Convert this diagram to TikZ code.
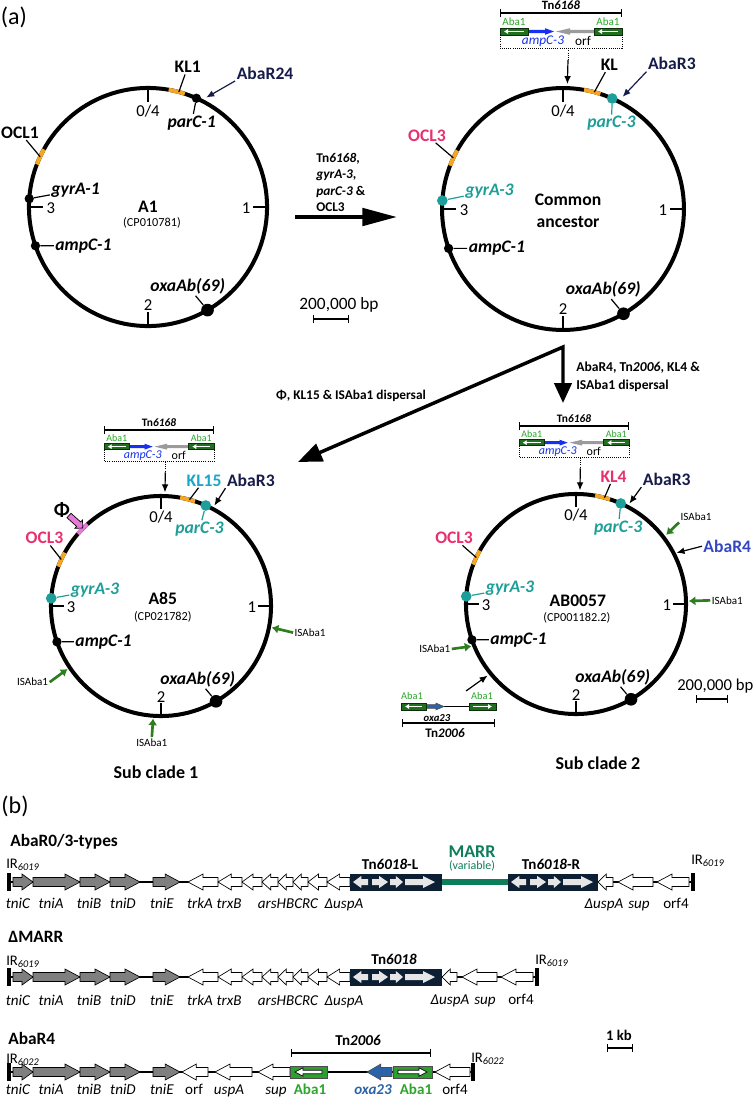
\documentclass[tikz,border=0pt]{standalone}
\usepackage{fontspec}
\setmainfont{Carlito}
\usepackage{tikz}
\usetikzlibrary{arrows.meta,shapes.arrows}
\tikzset{>={Latex[width=5pt,length=6pt]}}

\definecolor{klorange}{HTML}{F5A623}
\definecolor{tealc}{HTML}{1E9E98}
\definecolor{pinkc}{HTML}{E8306E}
\definecolor{kl15c}{HTML}{1AA6C8}
\definecolor{navyc}{HTML}{161C4A}
\definecolor{abarfourc}{HTML}{3347C2}
\definecolor{isgreen}{HTML}{2E7D1F}
\definecolor{abadark}{HTML}{1F6F1F}
\definecolor{abatxt}{HTML}{2BA52B}
\definecolor{abalight}{HTML}{2E9E2E}
\definecolor{ampblue}{HTML}{1530F0}
\definecolor{orfgrey}{HTML}{9B9B9B}
\definecolor{tnnavy}{HTML}{0D1F33}
\definecolor{marrgreen}{HTML}{0E7D5A}
\definecolor{oxablue}{HTML}{2A63A8}
\definecolor{phipink}{HTML}{E879D9}
\definecolor{genegrey}{HTML}{7F7F7F}
\definecolor{innergrey}{HTML}{E6E6E6}

\newcommand\fnlab{\fontsize{13.2}{15}\selectfont}
\newcommand\fntick{\fontsize{12.5}{14}\selectfont}
\newcommand\fnacc{\fontsize{9.2}{11}\selectfont}
\newcommand\fnis{\fontsize{8.3}{10}\selectfont}
\newcommand\fnarr{\fontsize{10}{12.2}\selectfont}
\newcommand\fngene{\fontsize{11.3}{13}\selectfont}
\newcommand\fntitle{\fontsize{13}{15}\selectfont}

\tikzset{
  chr/.style={line width=3pt},
  tck/.style={line width=2.2pt},
  seg/.style={line width=3pt, draw=klorange},
  lead/.style={line width=0.9pt},
  lab/.style={font=\fnlab\bfseries, inner sep=1pt},
  glab/.style={font=\fnlab\bfseries\itshape, inner sep=1pt},
  tlab/.style={font=\fntick, inner sep=1pt},
  acc/.style={font=\fnacc, inner sep=1pt},
  dot/.style={circle, fill=black, inner sep=0pt, minimum size=7pt},
  tdot/.style={dot, fill=tealc, minimum size=8pt},
  ptr/.style={->, line width=0.9pt},
  isarr/.style={draw=isgreen, line width=2pt, -{Latex[length=5pt,width=7pt]}},
  islab/.style={font=\fnis, inner sep=1pt},
  brk/.style={line width=0.8pt, {Bar[width=6pt]}-{Bar[width=6pt]}},
  abad/.style={fill=abadark, draw=black!60!abadark, line width=0.5pt},
  wline/.style={draw=white, line width=1.2pt, -{Latex[length=3pt,width=4pt]}},
  ampfill/.style={fill=ampblue, draw=none},
  orffill/.style={fill=orfgrey, draw=none},
  oxafill/.style={fill=oxablue, draw=black!70, line width=0.4pt},
  gfill/.style={fill=genegrey, draw=black, line width=0.5pt},
  wfill/.style={fill=white, draw=black, line width=0.5pt},
  ifill/.style={fill=innergrey, draw=none},
  abab/.style={fill=abalight, draw=black!70, line width=0.6pt},
  bb/.style={line width=2.2pt},
  marr/.style={line width=3.8pt, draw=marrgreen},
  irbar/.style={line width=2.4pt},
  gl/.style={font=\fngene\itshape, anchor=base, inner sep=0pt},
  tit/.style={font=\fntitle\bfseries, anchor=base west, inner sep=0pt},
  atxt/.style={font=\fnarr\bfseries, inner sep=0pt},
  phiarr/.style={single arrow, draw=black, fill=phipink, line width=0.5pt,
    minimum height=14pt, single arrow head extend=2pt, inner sep=2pt, rotate=-42},
}

\begin{document}
\begin{tikzpicture}[x=0.75pt, y=-0.75pt]
  \useasboundingbox (0,0) rectangle (756,1097);

  %% arrow shaped gene: tail, tip, y, half body, half head, longest head, style
  \newcommand\garrow[7]{%
    \pgfmathsetmacro\gb{(#2)-min(#6,0.55*abs((#2)-(#1)))*sign((#2)-(#1))}%
    \filldraw[#7] (#1,#3-#4) -- (\gb,#3-#4) -- (\gb,#3-#5) -- (#2,#3)
      -- (\gb,#3+#5) -- (\gb,#3+#4) -- (#1,#3+#4) -- cycle;}
  \newcommand\gene[4]{\garrow{#1}{#2}{#3}{4.5}{8}{15}{#4}}
  %% Tn6018 block
  \newcommand\tnbox[3]{%
    \fill[tnnavy] (#1,#3-8.5) rectangle (#2,#3+8.5);
    \garrow{#1+18}{#1+3}{#3}{3}{6}{9}{ifill}
    \garrow{#1+22}{#1+38}{#3}{3}{6}{9}{ifill}
    \garrow{#1+40}{#1+53}{#3}{3}{6}{9}{ifill}
    \garrow{#1+55}{#1+85}{#3}{3}{6}{12}{ifill}}
  %% circle, ticks and shared genes (radius 120 in the scope)
  \newcommand\chromo[1]{%
    \draw[chr] (0,0) circle[radius=120];
    \draw[seg] (-159:120) arc[start angle=-159, end angle=-151, radius=120];
    \coordinate (#1-oclm) at (-155:120);
    \draw[tck] (-90:120) -- (-90:106);
    \draw[tck] (0:120) -- (0:106);
    \draw[tck] (90:120) -- (90:106);
    \draw[tck] (180:120) -- (180:106);
    \node[tlab] (#1-t0) at (0,-97) {0/4};
    \node[tlab] (#1-t1) at (99,1) {1};
    \node[tlab] (#1-t2) at (0,99) {2};
    \node[tlab] (#1-t3) at (-98,1) {3};
    \node[dot] (#1-amp) at (161:120) {};
    \node[glab, anchor=west] (#1-ampl) at (-95,39) {ampC-1};
    \draw[lead] (#1-amp) -- (#1-ampl);
    \node[dot, minimum size=9.5pt] (#1-oxa) at (60:120) {};
    \node[glab] (#1-oxal) at (40,80) {oxaAb(69)};
    \draw[lead] (#1-oxa) -- (#1-oxal);}
  %% Tn6168 cassette: name, x, y, scale
  \newcommand\tnsix[4]{%
    \pgfmathsetmacro\cszA{9.5*#4}\pgfmathsetmacro\cszB{8.3*#4}\pgfmathsetmacro\cszC{10*#4}%
    \begin{scope}[shift={(#2,#3)}, scale=#4]
      \node[font=\fontsize{\cszA}{\cszA}\selectfont\bfseries, inner sep=0pt] (#1-name) at (0,-8) {Tn\textit{6168}};
      \draw[brk] (-61,0) -- (61,0);
      \node[font=\fontsize{\cszB}{\cszB}\selectfont, text=abatxt, inner sep=0pt] (#1-aba1) at (-47,9) {Aba1};
      \node[font=\fontsize{\cszB}{\cszB}\selectfont, text=abatxt, inner sep=0pt] (#1-aba2) at (47,9) {Aba1};
      \garrow{33}{-5}{18.5}{1.7}{3.3}{14}{orffill}
      \garrow{-33}{-7}{18.5}{1.7}{3.3}{9}{ampfill}
      \draw[abad] (-61,15) rectangle (-33,22);
      \draw[abad] (33,15) rectangle (61,22);
      \draw[wline] (-37,18.5) -- (-57,18.5);
      \draw[wline] (57,18.5) -- (37,18.5);
      \node[font=\fontsize{\cszC}{\cszC}\selectfont\itshape, text=ampblue, inner sep=0pt] (#1-amp) at (-18,28) {ampC-3};
      \node[font=\fontsize{\cszC}{\cszC}\selectfont, inner sep=0pt] (#1-orf) at (22,28) {orf};
      \draw[densely dotted, line width=0.6pt] (-61,22) -- (-61,35) -- (61,35) -- (61,22);
      \coordinate (#1-out) at (7,35);
      \coordinate (#1-mid) at (7,47);
    \end{scope}}

  \node[font=\fontsize{18}{20}\selectfont, inner sep=0pt] (lbla) at (14,17) {(a)};

  %% A1
  \begin{scope}[shift={(148,207)}, scale=0.992]
    \chromo{A1}
    \node[dot] (A1-gyr) at (-176:120) {};
    \node[glab] (A1-gyrl) at (-73,-17) {gyrA-1};
    \draw[lead] (A1-gyr) -- (A1-gyrl);
    \node[lab] (A1-ocl) at (-129,-75) {OCL1};
    \draw[lead] (A1-ocl) -- (A1-oclm);
    \draw[seg] (-80:120) arc[start angle=-80, end angle=-72, radius=120];
    \coordinate (A1-klm) at (-75:120);
    \node[lab] (A1-kl) at (40,-141) {KL1};
    \draw[lead] (A1-klm) -- (A1-kl);
    \node[dot] (A1-par) at (-66:120) {};
    \node[glab] (A1-parl) at (44,-85) {parC-1};
    \draw[lead] (A1-par) -- (A1-parl);
    \node[lab, navyc] (A1-abar) at (118,-135) {AbaR24};
    \coordinate (A1-abart) at (-62:125);
    \draw[ptr, navyc] (A1-abar.south west) -- (A1-abart);
    \node[lab] (A1-name) at (0,0) {A1};
    \node[acc] (A1-acc) at (4,16) {(CP010781)};
  \end{scope}

  %% common ancestor
  \begin{scope}[shift={(563,209)}, scale=1.008]
    \chromo{anc}
    \node[tdot] (anc-gyr) at (-176:120) {};
    \node[glab, tealc] (anc-gyrl) at (-73,-18) {gyrA-3};
    \draw[lead, tealc] (anc-gyr) -- (anc-gyrl);
    \node[lab, pinkc] (anc-ocl) at (-135,-73) {OCL3};
    \draw[lead] (anc-ocl) -- (anc-oclm);
    \draw[seg] (-80:120) arc[start angle=-80, end angle=-72, radius=120];
    \coordinate (anc-klm) at (-75:120);
    \node[lab] (anc-kl) at (46,-143) {KL};
    \draw[lead] (anc-klm) -- (anc-kl);
    \node[tdot] (anc-par) at (-66:120) {};
    \node[glab, tealc] (anc-parl) at (48,-85) {parC-3};
    \draw[lead, tealc] (anc-par) -- (anc-parl);
    \node[lab, navyc] (anc-abar) at (108,-144) {AbaR3};
    \coordinate (anc-abart) at (-62:126);
    \draw[ptr, navyc] (anc-abar.south west) -- (anc-abart);
    \coordinate (anc-tn) at (-88:124);
    \node[lab] (anc-name) at (5,-9) {Common};
    \node[lab] (anc-name2) at (5,13) {ancestor};
  \end{scope}

  %% A85
  \begin{scope}[shift={(161,606)}, scale=0.917]
    \chromo{A85}
    \draw[seg, draw=phipink] (-139:120) arc[start angle=-139, end angle=-132, radius=120];
    \node[tdot] (A85-gyr) at (-176:120) {};
    \node[glab, tealc] (A85-gyrl) at (-72,-17) {gyrA-3};
    \draw[lead, tealc] (A85-gyr) -- (A85-gyrl);
    \node[lab, pinkc] (A85-ocl) at (-127,-74) {OCL3};
    \draw[lead] (A85-ocl) -- (A85-oclm);
    \draw[seg] (-80:120) arc[start angle=-80, end angle=-72, radius=120];
    \coordinate (A85-klm) at (-75:120);
    \node[lab, kl15c] (A85-kl) at (47,-137) {KL15};
    \draw[lead] (A85-klm) -- (A85-kl);
    \node[tdot] (A85-par) at (-66:120) {};
    \node[glab, tealc] (A85-parl) at (42,-84) {parC-3};
    \draw[lead, tealc] (A85-par) -- (A85-parl);
    \node[lab, navyc] (A85-abar) at (98,-137) {AbaR3};
    \coordinate (A85-abart) at (-62:124);
    \draw[ptr] (A85-abar.south west) -- (A85-abart);
    \node[lab, font=\fontsize{15}{17}\selectfont\bfseries] (A85-phi) at (-108,-105) {Φ};
    \node[phiarr] (A85-phiarr) at (-94,-93) {};
    \coordinate (A85-tn) at (-88:124);
    \node[islab] (A85-is1) at (-140,83) {ISAba1};
    \coordinate (A85-is1t) at (146:123);
    \draw[isarr] (A85-is1.east) -- (A85-is1t);
    \node[islab] (A85-is2) at (-10,149) {ISAba1};
    \coordinate (A85-is2t) at (94:123);
    \draw[isarr] (A85-is2.north) -- (A85-is2t);
    \node[islab, anchor=west] (A85-is3) at (144,29) {ISAba1};
    \coordinate (A85-is3t) at (11:123);
    \draw[isarr] (A85-is3.west) -- (A85-is3t);
    \node[lab] (A85-name) at (2,-8) {A85};
    \node[acc] (A85-acc) at (2,12) {(CP021782)};
  \end{scope}

  %% AB0057
  \begin{scope}[shift={(576,604)}, scale=0.917]
    \chromo{AB57}
    \node[tdot] (AB57-gyr) at (-176:120) {};
    \node[glab, tealc] (AB57-gyrl) at (-72,-17) {gyrA-3};
    \draw[lead, tealc] (AB57-gyr) -- (AB57-gyrl);
    \node[lab, pinkc] (AB57-ocl) at (-133,-72) {OCL3};
    \draw[lead] (AB57-ocl) -- (AB57-oclm);
    \draw[seg] (-80:120) arc[start angle=-80, end angle=-72, radius=120];
    \coordinate (AB57-klm) at (-75:120);
    \node[lab, pinkc] (AB57-kl) at (41,-139) {KL4};
    \draw[lead] (AB57-klm) -- (AB57-kl);
    \node[tdot] (AB57-par) at (-66:120) {};
    \node[glab, tealc] (AB57-parl) at (46,-83) {parC-3};
    \draw[lead, tealc] (AB57-par) -- (AB57-parl);
    \node[lab, navyc] (AB57-abar) at (99,-136) {AbaR3};
    \coordinate (AB57-abart) at (-62:124);
    \draw[ptr] (AB57-abar.south west) -- (AB57-abart);
    \node[islab] (AB57-is1) at (131,-95) {ISAba1};
    \coordinate (AB57-is1t) at (-37.5:124);
    \draw[isarr] (AB57-is1.south west) -- (AB57-is1t);
    \node[lab, abarfourc] (AB57-abar4) at (165,-63) {AbaR4};
    \coordinate (AB57-abar4t) at (-27:123);
    \draw[ptr] (AB57-abar4.west) -- (AB57-abar4t);
    \node[islab] (AB57-is2) at (165,-4) {ISAba1};
    \coordinate (AB57-is2t) at (-1.5:123);
    \draw[isarr] (AB57-is2.west) -- (AB57-is2t);
    \node[islab] (AB57-is3) at (-154,49) {ISAba1};
    \coordinate (AB57-is3t) at (158:123);
    \draw[isarr] (AB57-is3.east) -- (AB57-is3t);
    \coordinate (AB57-tn2006) at (141:124);
    \coordinate (AB57-tn) at (-88:124);
    \node[lab] (AB57-name) at (2,-4) {AB0057};
    \node[acc] (AB57-acc) at (1,15) {(CP001182.2)};
  \end{scope}

  %% Tn6168 insertions
  \tnsix{c0}{561}{13}{1}
  \draw[densely dotted, line width=0.7pt] (c0-out) -- (c0-mid);
  \draw[ptr] (c0-mid) -- (anc-tn);
  \tnsix{c1}{159}{430}{0.9}
  \draw[densely dotted, line width=0.7pt] (c1-out) -- (c1-mid);
  \draw[ptr] (c1-mid) -- (A85-tn);
  \tnsix{c2}{574}{426}{0.9}
  \draw[densely dotted, line width=0.7pt] (c2-out) -- (c2-mid);
  \draw[ptr] (c2-mid) -- (AB57-tn);

  %% Tn2006
  \node[font=\fontsize{7.8}{9}\selectfont, text=abatxt, inner sep=0pt] (t26-aba1) at (412,696) {Aba1};
  \node[font=\fontsize{7.8}{9}\selectfont, text=abatxt, inner sep=0pt] (t26-aba2) at (482,696) {Aba1};
  \draw[line width=1.2pt] (444,706.5) -- (469,706.5);
  \garrow{426}{444}{706.5}{1.8}{3.4}{8}{oxafill}
  \draw[abad] (401,703) rectangle (426,710);
  \draw[abad] (469,703) rectangle (496,710);
  \draw[wline] (422,706.5) -- (405,706.5);
  \draw[wline] (473,706.5) -- (492,706.5);
  \node[font=\fontsize{8}{9}\selectfont\bfseries\itshape, inner sep=0pt] (t26-oxa) at (437,718) {oxa23};
  \draw[brk] (402,723) -- (495,723);
  \node[font=\fontsize{9.8}{11}\selectfont\bfseries, inner sep=0pt] (t26-name) at (445,733) {Tn\textit{2006}};
  \coordinate (t26-from) at (466,691);
  \draw[ptr] (t26-from) -- (AB57-tn2006);

  %% steps
  \coordinate (stepfrom) at (295,217);
  \coordinate (stepto) at (397,217);
  \draw[line width=3pt, -{Triangle[length=26pt,width=13pt]}] (stepfrom) -- (stepto);
  \node[atxt, anchor=north west, align=left] (steptxt) at (316,153)
    {Tn\textit{6168},\\\textit{gyrA-3},\\\textit{parC-3} \&\\OCL3};
  \coordinate (split) at (563,347);
  \coordinate (sub1in) at (298,462);
  \coordinate (sub2in) at (563,403);
  \draw[line width=2.6pt, line join=miter, {Triangle[length=18pt,width=14pt]}-{Triangle[length=15pt,width=13pt]}]
    (sub1in) -- (split) -- (sub2in);
  \node[atxt] (sub1txt) at (351,396) {Φ, KL15 \& ISAba1 dispersal};
  \node[atxt, anchor=north west, align=left, font=\fontsize{10.2}{13.5}\selectfont\bfseries] (sub2txt) at (576,362)
    {AbaR4, Tn\textit{2006}, KL4 \&\\ISAba1 dispersal};

  %% scale bars
  \node[tlab, font=\fontsize{13}{15}\selectfont] (sbar1) at (339,305) {200,000 bp};
  \coordinate (sbar1a) at (313,319);
  \coordinate (sbar1b) at (349,319);
  \draw[brk] (sbar1a) -- (sbar1b);
  \node[tlab, font=\fontsize{12.5}{15}\selectfont, anchor=east] (sbar2) at (755,686) {200,000 bp};
  \coordinate (sbar2a) at (696,699);
  \coordinate (sbar2b) at (728,699);
  \draw[brk] (sbar2a) -- (sbar2b);

  \node[lab, font=\fontsize{13.5}{16}\selectfont\bfseries] (sub1) at (156,772) {Sub clade 1};
  \node[lab, font=\fontsize{13.5}{16}\selectfont\bfseries] (sub2) at (598,763) {Sub clade 2};

  %% (b)
  \node[font=\fontsize{18}{20}\selectfont, inner sep=0pt] (lblb) at (15,806) {(b)};

  %% AbaR0/3-types
  \node[tit] (r1-title) at (10,846) {AbaR0/3-types};
  \draw[bb] (9,882) -- (350,882);
  \draw[bb] (598,882) -- (693,882);
  \draw[marr] (442,882) -- (508,882);
  \draw[irbar] (9,873) -- (9,891);
  \draw[irbar] (693,873) -- (693,891);
  \gene{13}{33}{882}{gfill}
  \gene{33}{80}{882}{gfill}
  \gene{80}{110}{882}{gfill}
  \gene{110}{140}{882}{gfill}
  \gene{153}{180}{882}{gfill}
  \gene{218}{188}{882}{wfill}
  \gene{242}{218}{882}{wfill}
  \gene{262}{242}{882}{wfill}
  \gene{278}{262}{882}{wfill}
  \gene{293}{278}{882}{wfill}
  \gene{308}{293}{882}{wfill}
  \gene{327}{308}{882}{wfill}
  \gene{350}{327}{882}{wfill}
  \tnbox{350}{442}{882}
  \tnbox{508}{598}{882}
  \gene{613}{598}{882}{wfill}
  \gene{653}{618}{882}{wfill}
  \gene{689}{657}{882}{wfill}
  \node[font=\fontsize{11}{13}\selectfont, anchor=base west, inner sep=0pt] (r1-irl) at (6,868) {IR\textsubscript{\itshape 6019}};
  \node[font=\fontsize{11}{13}\selectfont, anchor=base west, inner sep=0pt] (r1-irr) at (691,864) {IR\textsubscript{\itshape 6019}};
  \node[font=\fontsize{11.3}{13}\selectfont\bfseries, anchor=base, inner sep=0pt] (r1-tnl) at (390,869) {Tn\textit{6018}-L};
  \node[font=\fontsize{11.3}{13}\selectfont\bfseries, anchor=base, inner sep=0pt] (r1-tnr) at (551,869) {Tn\textit{6018}-R};
  \node[font=\fontsize{13.5}{15}\selectfont\bfseries, text=marrgreen, anchor=base, inner sep=0pt] (r1-marr) at (472,857) {MARR};
  \node[font=\fontsize{9}{11}\selectfont, text=marrgreen, anchor=base, inner sep=0pt] (r1-var) at (472,869) {(variable)};
  \node[gl] (r1-tniC) at (18,908) {tniC};
  \node[gl] (r1-tniA) at (51,908) {tniA};
  \node[gl] (r1-tniB) at (89,908) {tniB};
  \node[gl] (r1-tniD) at (123,908) {tniD};
  \node[gl] (r1-tniE) at (162,908) {tniE};
  \node[gl] (r1-trkA) at (200,908) {trkA};
  \node[gl] (r1-trxB) at (229,908) {trxB};
  \node[gl] (r1-ars) at (288,908) {arsHBCRC};
  \node[gl] (r1-usp) at (344,908) {ΔuspA};
  \node[gl] (r1-usp2) at (604,908) {ΔuspA};
  \node[gl] (r1-sup) at (639,908) {sup};
  \node[gl] (r1-orf4) at (676,908) {\upshape orf4};

  %% delta MARR
  \node[tit] (r2-title) at (8,942) {ΔMARR};
  \draw[bb] (9,977) -- (350,977);
  \draw[bb] (442,977) -- (537,977);
  \draw[irbar] (9,968) -- (9,986);
  \draw[irbar] (537,968) -- (537,986);
  \gene{13}{33}{977}{gfill}
  \gene{33}{80}{977}{gfill}
  \gene{80}{110}{977}{gfill}
  \gene{110}{140}{977}{gfill}
  \gene{153}{180}{977}{gfill}
  \gene{218}{188}{977}{wfill}
  \gene{242}{218}{977}{wfill}
  \gene{262}{242}{977}{wfill}
  \gene{278}{262}{977}{wfill}
  \gene{293}{278}{977}{wfill}
  \gene{308}{293}{977}{wfill}
  \gene{327}{308}{977}{wfill}
  \gene{350}{327}{977}{wfill}
  \tnbox{350}{442}{977}
  \gene{457}{442}{977}{wfill}
  \gene{497}{462}{977}{wfill}
  \gene{533}{501}{977}{wfill}
  \node[font=\fontsize{11}{13}\selectfont, anchor=base west, inner sep=0pt] (r2-irl) at (6,965) {IR\textsubscript{\itshape 6019}};
  \node[font=\fontsize{11}{13}\selectfont, anchor=base west, inner sep=0pt] (r2-irr) at (535,964) {IR\textsubscript{\itshape 6019}};
  \node[font=\fontsize{11.3}{13}\selectfont\bfseries, anchor=base, inner sep=0pt] (r2-tn) at (394,964) {Tn\textit{6018}};
  \node[gl] (r2-tniC) at (18,1005) {tniC};
  \node[gl] (r2-tniA) at (51,1005) {tniA};
  \node[gl] (r2-tniB) at (89,1005) {tniB};
  \node[gl] (r2-tniD) at (123,1005) {tniD};
  \node[gl] (r2-tniE) at (162,1005) {tniE};
  \node[gl] (r2-trkA) at (200,1005) {trkA};
  \node[gl] (r2-trxB) at (229,1005) {trxB};
  \node[gl] (r2-ars) at (288,1005) {arsHBCRC};
  \node[gl] (r2-usp) at (344,1005) {ΔuspA};
  \node[gl] (r2-usp2) at (450,1004) {ΔuspA};
  \node[gl] (r2-sup) at (485,1004) {sup};
  \node[gl] (r2-orf4) at (521,1004) {\upshape orf4};

  %% AbaR4
  \node[tit] (r3-title) at (8,1044) {AbaR4};
  \draw[bb] (9,1072) -- (473,1072);
  \draw[irbar] (9,1063) -- (9,1081);
  \draw[irbar] (473,1063) -- (473,1081);
  \gene{13}{33}{1072}{gfill}
  \gene{33}{80}{1072}{gfill}
  \gene{80}{110}{1072}{gfill}
  \gene{110}{140}{1072}{gfill}
  \gene{153}{180}{1072}{gfill}
  \gene{208}{182}{1072}{wfill}
  \gene{252}{215}{1072}{wfill}
  \gene{290}{258}{1072}{wfill}
  \draw[abab] (290,1066) rectangle (327,1078);
  \garrow{322}{295}{1072}{1.8}{4.2}{8}{wfill}
  \gene{392}{367}{1072}{oxafill}
  \draw[abab] (393,1066) rectangle (432,1078);
  \garrow{398}{427}{1072}{1.8}{4.2}{8}{wfill}
  \gene{470}{435}{1072}{wfill}
  \draw[brk] (291,1053) -- (431,1053);
  \node[font=\fontsize{11.3}{13}\selectfont\bfseries, anchor=base, inner sep=0pt] (r3-tn) at (358,1045) {Tn\textit{2006}};
  \node[font=\fontsize{11}{13}\selectfont, anchor=base west, inner sep=0pt] (r3-irl) at (6,1063) {IR\textsubscript{\itshape 6022}};
  \node[font=\fontsize{11}{13}\selectfont, anchor=base west, inner sep=0pt] (r3-irr) at (471,1062) {IR\textsubscript{\itshape 6022}};
  \node[gl] (r3-tniC) at (18,1094) {tniC};
  \node[gl] (r3-tniA) at (51,1094) {tniA};
  \node[gl] (r3-tniB) at (89,1094) {tniB};
  \node[gl] (r3-tniD) at (123,1094) {tniD};
  \node[gl] (r3-tniE) at (162,1094) {tniE};
  \node[gl] (r3-orf) at (194,1094) {\upshape orf};
  \node[gl] (r3-usp) at (229,1094) {uspA};
  \node[gl] (r3-sup) at (276,1094) {sup};
  \node[gl, font=\fngene\bfseries, text=abatxt] (r3-aba1) at (310,1094) {Aba1};
  \node[gl, font=\fngene\bfseries\itshape, text=oxablue] (r3-oxa) at (373,1094) {oxa23};
  \node[gl, font=\fngene\bfseries, text=abatxt] (r3-aba2) at (416,1094) {Aba1};
  \node[gl] (r3-orf4) at (455,1094) {\upshape orf4};

  %% 1 kb
  \node[font=\fontsize{11}{13}\selectfont\bfseries, anchor=base, inner sep=0pt] (kb) at (619,1040) {1 kb};
  \coordinate (kba) at (607,1048);
  \coordinate (kbb) at (633,1048);
  \draw[brk] (kba) -- (kbb);

\end{tikzpicture}
\end{document}
